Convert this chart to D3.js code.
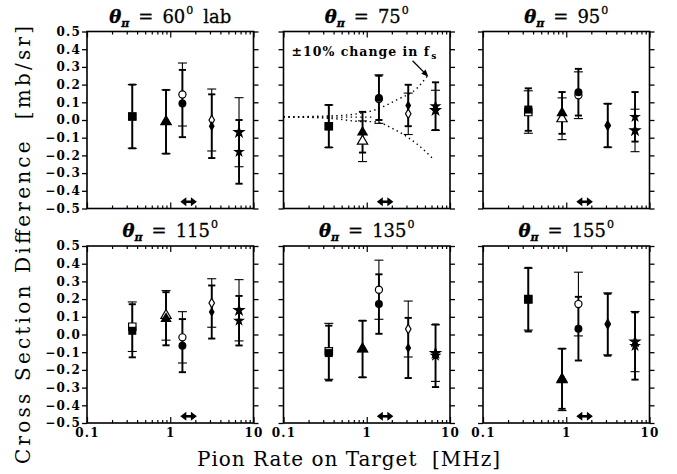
<!DOCTYPE html>
<html><head><meta charset="utf-8">
<script src="https://cdn.jsdelivr.net/npm/d3@7"></script>
<style>body{margin:0;background:#fff} svg{display:block}</style>
</head><body><svg id="c" width="677" height="474"></svg>
<script>
// ---------------- data ----------------
const panelAngles = ["60", "75", "95", "115", "135", "155"];
const panelSuffix = ["lab", "", "", "", "", ""];
const rates = [0.35, 0.89, 1.4, 3.15, 6.7];           // MHz
const shapes = ["square", "triangle", "circle", "diamond", "star"];

const filledVals = [
  [0.02, -0.01, 0.093, -0.035, -0.18],
  [-0.035, -0.069, 0.125, 0.082, 0.078],
  [0.059, 0.04, 0.157, -0.031, 0.018],
  [0.021, 0.089, -0.063, 0.127, 0.078],
  [-0.105, -0.082, 0.172, -0.076, -0.12],
  [0.197, -0.25, 0.033, 0.055, -0.065]
];
const filledErrs = [
  [0.18, 0.18, 0.19, 0.18, 0.18],
  [0.12, 0.115, 0.125, 0.117, 0.135],
  [0.12, 0.118, 0.132, 0.123, 0.14],
  [0.15, 0.15, 0.15, 0.15, 0.14],
  [0.155, 0.16, 0.168, 0.17, 0.177],
  [0.18, 0.17, 0.18, 0.175, 0.19]
];
const openVals = [
  [0.02, -0.01, 0.144, 0.0, -0.069],
  [-0.035, -0.12, 0.118, 0.035, 0.055],
  [0.045, 0.007, 0.14, -0.031, -0.059],
  [0.044, 0.108, -0.016, 0.178, 0.137],
  [-0.095, -0.082, 0.253, 0.031, -0.105],
  [0.2, -0.255, 0.172, 0.06, -0.04]
];
const openErrs = [
  [0.18, 0.18, 0.178, 0.175, 0.195],
  [0.12, 0.115, 0.137, 0.117, 0.113],
  [0.12, 0.118, 0.132, 0.123, 0.12],
  [0.14, 0.14, 0.145, 0.137, 0.173],
  [0.158, 0.16, 0.167, 0.158, 0.16],
  [0.175, 0.175, 0.18, 0.175, 0.17]
];

// dotted "+/-10% change in fs" curves (75 deg panel)
const fsUpperX = [0.1, 0.4, 0.8, 1.22, 2.34, 4.07, 5.4];
const fsUpperY = [0.018, 0.024, 0.036, 0.055, 0.116, 0.182, 0.252];
const fsLowerX = [0.1, 0.4, 0.8, 1.22, 2.34, 4.07, 6.1];
const fsLowerY = [0.018, 0.008, -0.008, -0.01, -0.063, -0.138, -0.214];
const fsMidX = [0.1, 1.25];
const fsMidY = [0.016, 0.016];
const fsLabel = "\u00b110% change in f";
const fsLabelSub = "s";
const fsLabelPos = [0.125, 0.36];
const fsArrowX = [3.55, 5.5];
const fsArrowY = [0.335, 0.245];

// beam-rate range indicator
const rangeX = [1.32, 2.09];
const rangeY = -0.462;

const yTickVals = [0.5, 0.4, 0.3, 0.2, 0.1, 0.0, -0.1, -0.2, -0.3, -0.4, -0.5];
const yTickLabels = ["0.5", "0.4", "0.3", "0.2", "0.1", "0.0", "\u22120.1", "\u22120.2", "\u22120.3", "\u22120.4", "\u22120.5"];
const xMajorVals = [0.1, 1, 10];
const xMajorLabels = ["0.1", "1", "10"];
const xMinorVals = [0.2, 0.3, 0.4, 0.5, 0.6, 0.7, 0.8, 0.9, 2, 3, 4, 5, 6, 7, 8, 9];

const xTitle = "Pion Rate on Target  [MHz]";
const yTitle = "Cross Section Difference  [mb/sr]";

// ---------------- layout ----------------
const svg = d3.select("#c");
const FONT = "'DejaVu Serif', 'Liberation Serif', serif";
const lefts = [87, 283.5, 483];
const tops = [31.5, 246];
const W = 166.5, H = 177;

const symType = {square: d3.symbolSquare, triangle: d3.symbolTriangle, circle: d3.symbolCircle, diamond: d3.symbolDiamond, star: d3.symbolStar};
const symSize = {square: 64, triangle: 56, circle: 50, diamond: 30, star: 44};
const symOpenSize = {square: 55, triangle: 46, circle: 40, diamond: 26, star: 30};

panelAngles.forEach((ang, i) => {
  const col = i % 3, row = Math.floor(i / 3);
  const x0 = lefts[col], y0 = tops[row];
  const x = d3.scaleLog().domain([0.1, 10]).range([x0, x0 + W]);
  const y = d3.scaleLinear().domain([-0.5, 0.5]).range([y0 + H, y0]);
  const g = svg.append("g");

  // frame
  g.append("rect").attr("x", x0).attr("y", y0).attr("width", W).attr("height", H)
    .attr("fill", "none").attr("stroke", "#000").attr("stroke-width", 1.6);

  // y ticks (outward both sides)
  const axL = d3.axisLeft(y).tickValues(yTickVals).tickSize(5).tickFormat((d, k) => col === 0 ? yTickLabels[k] : "");
  const gl = g.append("g").attr("transform", `translate(${x0},0)`).call(axL);
  const axR = d3.axisRight(y).tickValues(yTickVals).tickSize(5).tickFormat("");
  const gr = g.append("g").attr("transform", `translate(${x0 + W},0)`).call(axR);
  [gl, gr].forEach(a => { a.select(".domain").remove(); a.selectAll("line").attr("stroke-width", 1.3); });
  gl.selectAll("text").attr("font-family", FONT).attr("font-size", 12).attr("letter-spacing", 1.2)
    .attr("fill", "#000").attr("x", -6).attr("font-weight", "bold");

  // x ticks (inward, top & bottom)
  const mkX = (orient, vals, size, labels) => {
    const ax = (orient === "bottom" ? d3.axisBottom(x) : d3.axisTop(x)).tickValues(vals).tickSize(-size)
      .tickFormat((d, k) => labels ? labels[k] : "");
    const gg = g.append("g").attr("transform", `translate(0,${orient === "bottom" ? y0 + H : y0})`).call(ax);
    gg.select(".domain").remove();
    gg.selectAll("line").attr("stroke-width", 1.2);
    return gg;
  };
  const gbM = mkX("bottom", xMajorVals, 6, row === 1 ? xMajorLabels : null);
  mkX("bottom", xMinorVals, 3, null);
  mkX("top", xMajorVals, 6, null);
  mkX("top", xMinorVals, 3, null);
  gbM.selectAll("text").attr("font-family", FONT).attr("font-size", 12).attr("letter-spacing", 1.2)
    .attr("fill", "#000").attr("y", 5).attr("font-weight", "bold");

  // title
  const t = g.append("text").attr("x", x0 + W / 2).attr("y", y0 - 9).attr("text-anchor", "middle")
    .attr("font-family", FONT).attr("font-size", 18).attr("fill", "#000").attr("stroke", "#000").attr("stroke-width", 0.3);
  t.append("tspan").attr("font-style", "italic").attr("font-weight", "bold").text("\u03b8");
  t.append("tspan").attr("font-style", "italic").attr("font-weight", "bold").attr("font-size", 11).attr("dy", 4).text("\u03c0");
  t.append("tspan").attr("dy", -4).attr("dx", 9).text("=");
  t.append("tspan").attr("dx", 9).text(ang);
  t.append("tspan").attr("font-size", 11).attr("dy", -9).attr("dx", 1).text("0");
  if (panelSuffix[i]) t.append("tspan").attr("dy", 9).attr("dx", 10).text(panelSuffix[i]);

  // fs curves
  if (i === 1) {
    const line = d3.line().x(d => x(d[0])).y(d => y(d[1])).curve(d3.curveMonotoneX);
    [[fsUpperX, fsUpperY], [fsLowerX, fsLowerY], [fsMidX, fsMidY]].forEach(([xs, ys]) => {
      g.append("path").attr("d", line(xs.map((v, k) => [v, ys[k]])))
        .attr("fill", "none").attr("stroke", "#000").attr("stroke-width", 1.4)
        .attr("stroke-dasharray", "1.4,3.4");
    });
    const lt = g.append("text").attr("x", x(fsLabelPos[0])).attr("y", y(fsLabelPos[1]))
      .attr("font-family", FONT).attr("font-size", 12.5).attr("font-weight", "bold").attr("fill", "#000")
      .attr("letter-spacing", 1.0);
    lt.append("tspan").text(fsLabel);
    lt.append("tspan").attr("font-size", 9).attr("dy", 3).attr("dx", 1).text(fsLabelSub);
    // arrow
    const ax1 = x(fsArrowX[0]), ay1 = y(fsArrowY[0]), ax2 = x(fsArrowX[1]), ay2 = y(fsArrowY[1]);
    const ang2 = Math.atan2(ay2 - ay1, ax2 - ax1);
    g.append("line").attr("x1", ax1).attr("y1", ay1).attr("x2", ax2 - 5 * Math.cos(ang2)).attr("y2", ay2 - 5 * Math.sin(ang2))
      .attr("stroke", "#000").attr("stroke-width", 1.3);
    const hl = 7, hw = 3;
    const bx = ax2 - hl * Math.cos(ang2), by = ay2 - hl * Math.sin(ang2);
    g.append("path").attr("d", `M${ax2},${ay2}L${bx - hw * Math.sin(ang2)},${by + hw * Math.cos(ang2)}L${bx + hw * Math.sin(ang2)},${by - hw * Math.cos(ang2)}Z`)
      .attr("fill", "#000");
  }

  // range double arrow
  {
    const xa = x(rangeX[0]), xb = x(rangeX[1]), yy = y(rangeY);
    g.append("line").attr("x1", xa + 4).attr("x2", xb - 4).attr("y1", yy).attr("y2", yy)
      .attr("stroke", "#000").attr("stroke-width", 2.6);
    g.append("path").attr("d", `M${xa},${yy}L${xa + 6},${yy - 4.5}L${xa + 6},${yy + 4.5}Z`).attr("fill", "#000");
    g.append("path").attr("d", `M${xb},${yy}L${xb - 6},${yy - 4.5}L${xb - 6},${yy + 4.5}Z`).attr("fill", "#000");
  }

  // error bars: open (thin) then filled (thick)
  const drawBars = (vals, errs, sw, cap) => {
    rates.forEach((r, k) => {
      const cx = x(r), yt = y(vals[k] + errs[k]), yb = y(vals[k] - errs[k]);
      g.append("line").attr("x1", cx).attr("x2", cx).attr("y1", yt).attr("y2", yb).attr("stroke", "#000").attr("stroke-width", sw);
      [yt, yb].forEach(yy => g.append("line").attr("x1", cx - cap).attr("x2", cx + cap).attr("y1", yy).attr("y2", yy)
        .attr("stroke", "#000").attr("stroke-width", sw));
    });
  };
  drawBars(openVals[i], openErrs[i], 1.1, 4.5);
  drawBars(filledVals[i], filledErrs[i], 1.9, 3.6);

  rates.forEach((r, k) => {
    const s = shapes[k];
    g.append("path").attr("d", d3.symbol().type(symType[s]).size(symOpenSize[s])())
      .attr("transform", `translate(${x(r)},${y(openVals[i][k])})`)
      .attr("fill", s === "star" ? "#000" : "#fff").attr("stroke", "#000").attr("stroke-width", 1.2);
  });
  rates.forEach((r, k) => {
    const s = shapes[k];
    g.append("path").attr("d", d3.symbol().type(symType[s]).size(symSize[s])())
      .attr("transform", `translate(${x(r)},${y(filledVals[i][k])})`)
      .attr("fill", "#000");
  });
});

// axis titles
svg.append("text").attr("x", 197).attr("y", 466).attr("font-family", FONT).attr("font-size", 20)
  .attr("textLength", 303).attr("lengthAdjust", "spacing").attr("fill", "#000")
  .style("white-space", "pre").text(xTitle);
svg.append("text").attr("transform", "translate(30,245) rotate(-90)").attr("text-anchor", "middle")
  .attr("font-family", FONT).attr("font-size", 20).attr("textLength", 438).attr("lengthAdjust", "spacing")
  .attr("fill", "#000").style("white-space", "pre").text(yTitle);
</script></body></html>
